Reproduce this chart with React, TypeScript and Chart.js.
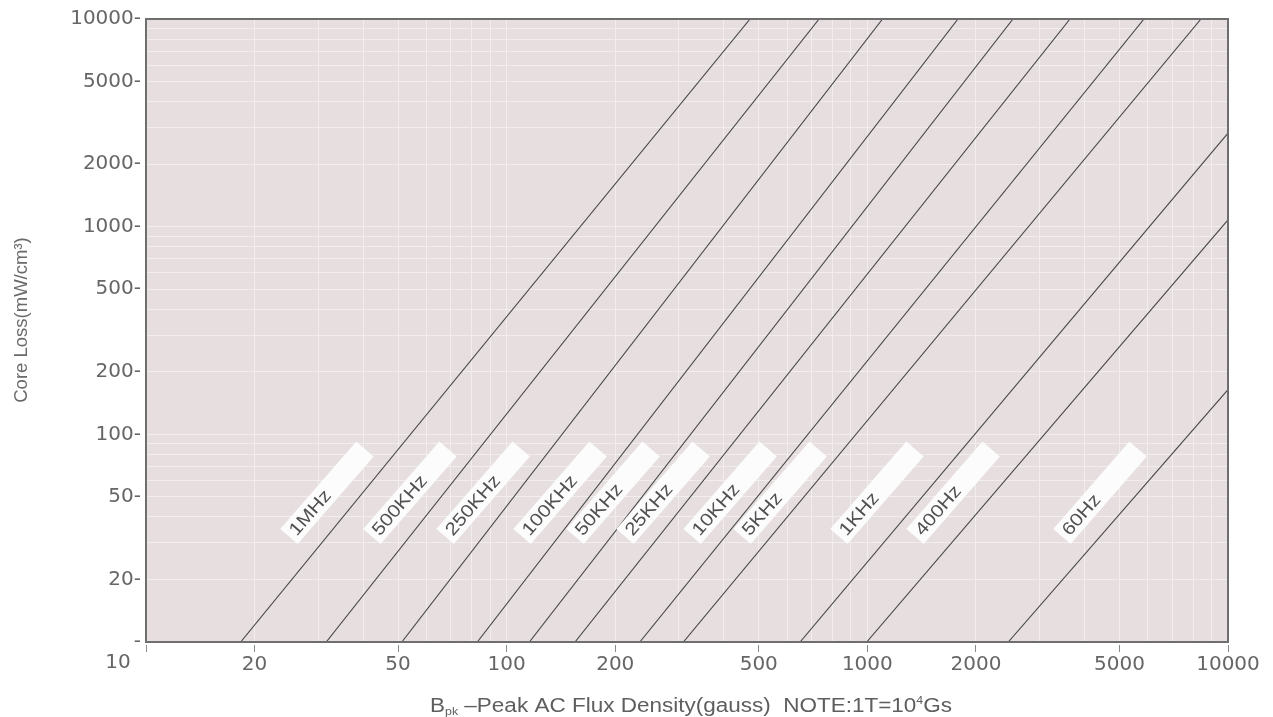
import React, { useEffect, useRef } from "react";
import { Chart, registerables } from "chart.js";

Chart.register(...registerables);

// Frequency curves (core loss vs. peak flux density)
const frequencyLabels = ["1MHz", "500KHz", "250KHz", "100KHz", "50KHz", "25KHz", "10KHz", "5KHz", "1KHz", "400Hz", "60Hz"];
// Start point of each curve (gauss, mW/cm3)
const fluxStart = [18.3, 31.6, 51.2, 82.9, 115.6, 154.7, 234, 309, 651, 996, 2459];
const lossStart = [10, 10, 10, 10, 10, 10, 10, 10, 10, 10, 10];
// End point of each curve (gauss, mW/cm3)
const fluxEnd = [473, 735, 1102, 1784, 2534, 3647, 5850, 8417, 10000, 10000, 10000];
const lossEnd = [10000, 10000, 10000, 10000, 10000, 10000, 10000, 10000, 2818, 1079, 164];
// Where each frequency tag sits (gauss, mW/cm3)
const tagFlux = [24.9, 42.3, 67.5, 110.3, 154.7, 212.9, 326.6, 449.3, 834, 1356, 3464];
const tagLoss = [32.2, 32.2, 32.2, 32.2, 32.2, 32.2, 32.2, 32.2, 32.2, 32.2, 32.2];

// Grid values and labelled ticks
const gridValues = [
  10, 20, 30, 40, 50, 60, 70, 80, 90,
  100, 200, 300, 400, 500, 600, 700, 800, 900,
  1000, 2000, 3000, 4000, 5000, 6000, 7000, 8000, 9000,
  10000,
];
const xTickLabels = ["10", "20", "50", "100", "200", "500", "1000", "2000", "5000", "10000"];
const yTickLabels = ["10", "20", "50", "100", "200", "500", "1000", "2000", "5000", "10000"];

const yTitle = "Core Loss(mW/cm³)";
const xTitleParts = [
  { t: "B", small: false, dy: 0 },
  { t: "pk", small: true, dy: 3 },
  { t: " –Peak AC Flux Density(gauss)  NOTE:1T=10", small: false, dy: 0 },
  { t: "4", small: true, dy: -8 },
  { t: "Gs", small: false, dy: 0 },
];

const decorPlugin = {
  id: "decor",
  beforeDraw(chart: any) {
    const { ctx, chartArea: a } = chart;
    ctx.save();
    ctx.fillStyle = "#e6dedf";
    ctx.fillRect(a.left, a.top, a.right - a.left, a.bottom - a.top);
    ctx.restore();
  },
  afterDatasetsDraw(chart: any) {
    const { ctx } = chart;
    const xs = chart.scales.x;
    const ys = chart.scales.y;
    const ang = (-49 * Math.PI) / 180;
    frequencyLabels.forEach((lab, i) => {
      const px = xs.getPixelForValue(tagFlux[i]);
      const py = ys.getPixelForValue(tagLoss[i]);
      ctx.save();
      ctx.translate(px, py);
      ctx.rotate(ang);
      ctx.fillStyle = "#fcfcfc";
      ctx.fillRect(0, -11.5, 116, 23);
      ctx.fillStyle = "#505050";
      ctx.font = '18px "Liberation Sans"';
      ctx.textBaseline = "middle";
      ctx.textAlign = "left";
      ctx.scale(1.15, 1);
      ctx.fillText(lab, 5 / 1.15, 1);
      ctx.restore();
    });
  },
  afterDraw(chart: any) {
    const { ctx, chartArea: a } = chart;
    const xs = chart.scales.x;
    ctx.save();
    // frame
    ctx.strokeStyle = "#6e6e6e";
    ctx.lineWidth = 2;
    ctx.strokeRect(a.left, a.top, a.right - a.left, a.bottom - a.top);

    // corner "10" label of the x axis
    ctx.fillStyle = "#666666";
    ctx.font = '20px "DejaVu Sans"';
    ctx.textAlign = "center";
    ctx.textBaseline = "top";
    ctx.fillText(xTickLabels[0], xs.getPixelForValue(10) - 28, a.bottom + 11);

    // y title
    ctx.save();
    ctx.translate(22, 320);
    ctx.rotate(-Math.PI / 2);
    ctx.font = '18.5px "Liberation Sans"';
    ctx.textAlign = "center";
    ctx.textBaseline = "middle";
    ctx.fillStyle = "#6a6a6a";
    ctx.fillText(yTitle, 0, 0);
    ctx.restore();

    // x title
    const big = '20px "Liberation Sans"';
    const small = '11px "Liberation Sans"';
    let total = 0;
    xTitleParts.forEach((p) => {
      ctx.font = p.small ? small : big;
      total += ctx.measureText(p.t).width;
    });
    const k = 522 / total;
    ctx.save();
    ctx.translate(430, 712);
    ctx.scale(k, 1);
    ctx.textAlign = "left";
    ctx.textBaseline = "alphabetic";
    ctx.fillStyle = "#5e5e5e";
    let cx = 0;
    xTitleParts.forEach((p) => {
      ctx.font = p.small ? small : big;
      ctx.fillText(p.t, cx, p.dy);
      cx += ctx.measureText(p.t).width;
    });
    ctx.restore();
    ctx.restore();
  },
};

export default function App() {
  const ref = useRef<HTMLCanvasElement | null>(null);

  useEffect(() => {
    document.body.style.margin = "0";
    const canvas = ref.current;
    if (!canvas) return;
    const datasets = frequencyLabels.map((lab, i) => ({
      label: lab,
      data: [
        { x: fluxStart[i], y: lossStart[i] },
        { x: fluxEnd[i], y: lossEnd[i] },
      ],
      showLine: true,
      borderColor: "#454545",
      borderWidth: 1.1,
      pointRadius: 0,
      fill: false,
    }));

    const chart = new Chart(canvas, {
      type: "scatter",
      data: { datasets },
      plugins: [decorPlugin],
      options: {
        animation: false,
        responsive: false,
        layout: { padding: { top: 19, right: 45, left: 0, bottom: 0 } },
        plugins: {
          legend: { display: false },
          tooltip: { enabled: false },
          title: { display: false },
        },
        scales: {
          x: {
            type: "logarithmic",
            position: "bottom",
            min: 10,
            max: 10000,
            border: { display: false },
            afterBuildTicks: (scale: any) => {
              scale.ticks = gridValues.map((v) => ({ value: v }));
            },
            afterFit: (scale: any) => {
              scale.height = 75;
            },
            grid: {
              color: "#f3eeee",
              lineWidth: 1,
              drawTicks: true,
              tickLength: 11,
              tickBorderDash: [0, 3, 7, 100],
              tickColor: (c: any) =>
                c.tick && xTickLabels.includes(String(c.tick.value)) ? "#8a8a8a" : "rgba(0,0,0,0)",
            },
            ticks: {
              autoSkip: false,
              maxRotation: 0,
              minRotation: 0,
              padding: 0,
              color: "#666666",
              font: { family: "DejaVu Sans", size: 20 },
              callback: (v: any) => {
                const s = String(v);
                if (s === "10") return "";
                return xTickLabels.includes(s) ? s : "";
              },
            },
          },
          y: {
            type: "logarithmic",
            position: "left",
            min: 10,
            max: 10000,
            border: { display: false },
            afterBuildTicks: (scale: any) => {
              scale.ticks = gridValues.map((v) => ({ value: v }));
            },
            afterFit: (scale: any) => {
              scale.width = 146;
            },
            grid: {
              color: "#f3eeee",
              lineWidth: 1,
              drawTicks: false,
            },
            ticks: {
              autoSkip: false,
              padding: 5,
              color: "#666666",
              font: { family: "DejaVu Sans", size: 20 },
              callback: (v: any) => {
                const s = String(v);
                if (!yTickLabels.includes(s)) return "";
                return s === "10" ? "-" : s + "-";
              },
            },
          },
        },
      },
    } as any);

    return () => chart.destroy();
  }, []);

  return (
    <div style={{ width: 1273, height: 717 }}>
      <canvas ref={ref} width={1273} height={717} style={{ display: "block" }} />
    </div>
  );
}
